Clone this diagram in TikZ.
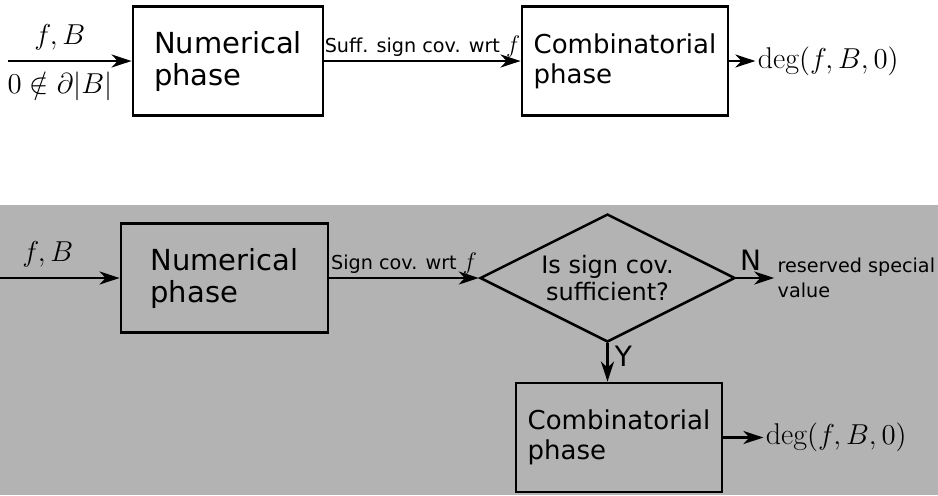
\documentclass[tikz,border=0pt]{standalone}
\usepackage{amsmath}
\usepackage{fontspec}
\newfontfamily\dejavu{DejaVu Sans}
\usepackage{tikz}
\usetikzlibrary{arrows.meta}
\usetikzlibrary{shapes.geometric}
\usetikzlibrary{positioning}
\definecolor{bggray}{HTML}{B3B3B3}
\newcommand{\wrtf}{{\fontsize{12}{12}\selectfont$f$}}
\tikzset{
    flow/.style={draw=black, line width=1.25pt,
        -{Stealth[length=10pt,width=6.5pt,inset=3pt]}},
    phase/.style={draw=black, line width=1.4pt, align=left, inner sep=0pt},
    numbox/.style={phase, font=\dejavu\fontsize{14.5}{16}\selectfont},
    combbox/.style={phase, font=\dejavu\fontsize{13}{15}\selectfont},
    question/.style={diamond, draw=black, line width=1.25pt, aspect=2,
        inner sep=0pt, minimum width=127.5pt, minimum height=64pt,
        align=center, font=\dejavu\fontsize{12}{13.5}\selectfont},
    flowlabel/.style={font=\dejavu\fontsize{9.6}{12.5}\selectfont, inner sep=1.5pt},
    mathlabel/.style={font=\fontsize{13.5}{15}\selectfont, inner sep=2pt},
    result/.style={font=\fontsize{15}{17}\selectfont, inner sep=1pt},
    answer/.style={font=\dejavu\fontsize{14}{16}\selectfont, inner sep=1pt},
}

\begin{document}
\begin{tikzpicture}[x=0.5pt, y=-0.5pt]
	\useasboundingbox (0,0) rectangle (938,495);
	% sufficient sign covering known in advance
	\coordinate (in1) at (8,61);
	\node[numbox, minimum width=95pt, minimum height=54.5pt] (num1) at (228,61) {Numerical\\phase};
	\node[combbox, minimum width=103pt, minimum height=54.5pt] (comb1) at (625,61) {Combinatorial\\phase};
	\node[result, right=13pt of comb1] (deg1) {$\deg(f,B,0)$};
	\draw[flow] (in1) -- (num1)
		node[mathlabel, pos=.42, above=3pt] {$f,B$}
		node[mathlabel, pos=.42, below=3pt] {$0\notin\partial|B|$};
	\draw[flow] (num1) -- (comb1) node[flowlabel, midway, above] {Suff. sign cov. wrt \wrtf};
	\draw[flow] (comb1) -- (deg1);

	% sign covering checked afterwards
	\fill[bggray] (0,205) rectangle (938,495);
	\coordinate (in2) at (0,278);
	\node[numbox, minimum width=103.5pt, minimum height=54.5pt] (num2) at (224.5,278) {Numerical\\phase};
	\node[question] (suff) at (607.5,278) {Is sign cov.\\sufficient?};
	\node[flowlabel, align=left, right=19pt of suff] (resv) {reserved special\\value};
	\node[combbox, minimum width=103pt, minimum height=54.5pt] (comb2) at (619,437.5) {Combinatorial\\phase};
	\node[result, right=20pt of comb2] (deg2) {$\deg(f,B,0)$};
	\draw[flow] (in2) -- (num2) node[mathlabel, pos=.4, above=3pt] {$f,B$};
	\draw[flow] (num2) -- (suff) node[flowlabel, midway, above] {Sign cov. wrt \wrtf};
	\draw[flow] (suff) -- (resv) node[answer, pos=.38, above=2pt] {N};
	\draw[flow] (suff.south) -- (suff.south |- comb2.north) node[answer, pos=.35, right=2pt] {Y};
	\draw[flow] (comb2) -- (deg2);
\end{tikzpicture}
\end{document}
